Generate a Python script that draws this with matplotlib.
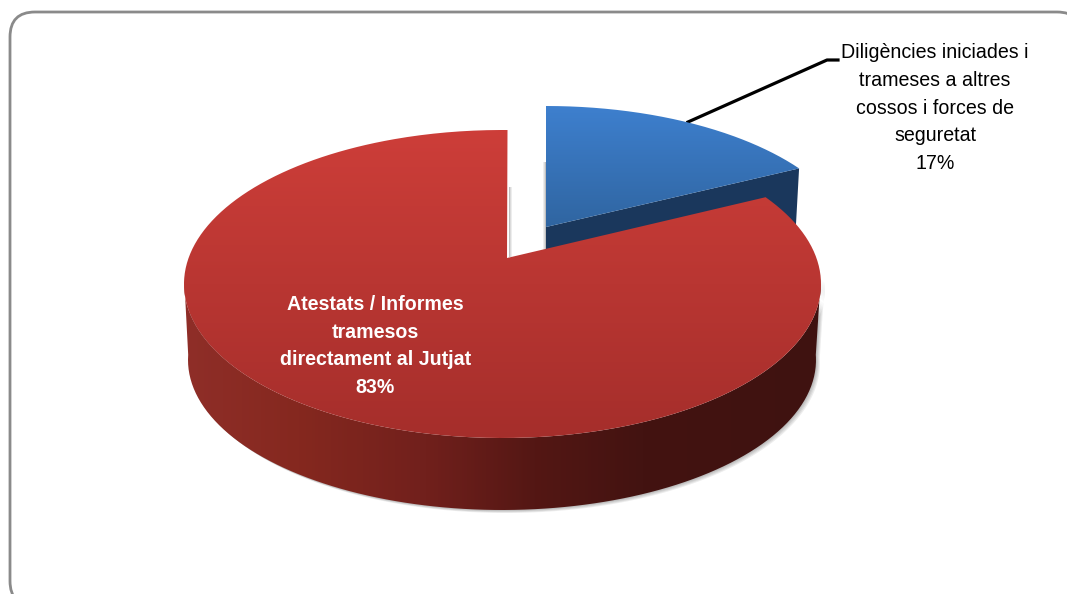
import numpy as np
import matplotlib
matplotlib.use("Agg")
import matplotlib.pyplot as plt
from matplotlib.path import Path
from matplotlib.patches import PathPatch, FancyBboxPatch
from matplotlib.colors import LinearSegmentedColormap
from matplotlib.transforms import Affine2D

categories = ["Diligències iniciades i\ntrameses a altres\ncossos i forces de\nseguretat",
              "Atestats / Informes\ntramesos\ndirectament al Jutjat"]
shares = [17, 83]

family = ["Liberation Sans"]

W, H = 1067, 594
fig = plt.figure(figsize=(W / 100, H / 100), dpi=100)
ax = fig.add_axes([0, 0, 1, 1])
ax.set_xlim(0, W)
ax.set_ylim(H, 0)
ax.axis("off")

# view of the pie: ellipse centre, radii, thickness, perspective squeeze of angles
RED_TOP = dict(cx=502.5, cy=284, rx=318.5, ry=154)
RED_BOTTOM = dict(cx=502, cy=360, rx=314, ry=150)
RED_APEX = (507, 258)
BLUE_TOP = dict(cx=546, cy=255, rx=311, ry=149)
BLUE_APEX = (546, 227)
BLUE_DEPTH = 72
WARP_RED = 0.91
WARP_BLUE = 0.89


def arc(e, t0, t1, n=200):
    t = np.radians(np.linspace(t0, t1, n))
    return np.column_stack([e["cx"] + e["rx"] * np.sin(t), e["cy"] - e["ry"] * np.cos(t)])


def poly(pts):
    pts = np.asarray(pts)
    return Path(np.vstack([pts, pts[:1]]))


def fill(path, stops, extent, vertical=True, z=2):
    cmap = LinearSegmentedColormap.from_list("g", stops)
    grad = np.linspace(0, 1, 256)
    grad = grad[:, None] if vertical else grad[None, :]
    im = ax.imshow(grad, cmap=cmap, extent=extent, aspect="auto", zorder=z, origin="upper",
                   vmin=0, vmax=1, interpolation="bilinear")
    clip = PathPatch(path, transform=ax.transData, fc="none", ec="none")
    ax.add_patch(clip)
    im.set_clip_path(clip)


def shadow(path, dx, dy, z, steps=4, alpha=0.09):
    for k in range(1, steps + 1):
        ax.add_patch(PathPatch(path.transformed(
            Affine2D().translate(dx * k / steps, dy * k / steps)),
            fc="black", ec="none", alpha=alpha, zorder=z))


total = sum(shares)
sweep_blue = 360 * shares[0] / total * WARP_BLUE
sweep_red_start = 360 * shares[0] / total * WARP_RED

# frame, running off the right and bottom of the picture
ax.add_patch(FancyBboxPatch((35, 37), 1022, 544, boxstyle="round,pad=25,rounding_size=25",
                            fc="white", ec="#8a8a8a", lw=2, zorder=1, clip_on=True))

# leader line
ax.plot([688, 827, 838], [122, 60, 60], color="black", lw=2.3, zorder=1.5, solid_joinstyle="round")

# blue slice
blue_arc = arc(BLUE_TOP, 0, sweep_blue)
blue_top = poly(np.vstack([blue_arc, [BLUE_APEX]]))
blue_side = poly([BLUE_APEX, blue_arc[-1], blue_arc[-1] + [-4, BLUE_DEPTH],
                  (BLUE_APEX[0], BLUE_APEX[1] + BLUE_DEPTH)])
for k, a in zip((1, 2, 3), (0.25, 0.14, 0.07)):
    ax.add_patch(PathPatch(poly([(546 - k, 162), (546 - k + 1, 162), (546 - k + 1, 251), (546 - k, 251)]),
                           fc="black", ec="none", alpha=a, zorder=1.6))
ax.add_patch(PathPatch(blue_side, fc="#1a375c", ec="none", zorder=2))
fill(blue_top, ["#3e80cf", "#2f649f"], (540, 810, 232, 104), vertical=True, z=3)

# red slice
t_start = 0.9
outer = arc(RED_TOP, sweep_red_start, 360 + t_start, 500)
red_top = poly(np.vstack([outer, [RED_APEX]]))
wall = poly(np.vstack([arc(RED_TOP, 88, 272), arc(RED_BOTTOM, 272, 88)]))
shadow(wall, 4, 3, 3.5, steps=4, alpha=0.07)
for k, a in zip((1, 2, 3), (0.25, 0.14, 0.07)):
    ax.add_patch(PathPatch(poly([(508 + k, 187), (509 + k, 187), (509 + k, 257), (508 + k, 257)]),
                           fc="black", ec="none", alpha=a, zorder=1.6))
fill(wall, [(0.0, "#8f2e28"), (0.18, "#85281f"), (0.38, "#71201c"), (0.55, "#541714"),
            (0.72, "#431311"), (1.0, "#3f1210")], (184, 821, 600, 200), vertical=False, z=4)
fill(red_top, ["#cd3e39", "#a52e2b"], (180, 825, 440, 128), vertical=True, z=5)

# labels
ax.text(935, 108, categories[0] + f"\n{shares[0]}%", ha="center", va="center", color="black",
        fontsize=14.1, family=family, linespacing=1.57, zorder=6)
ax.text(375.5, 346, categories[1] + f"\n{shares[1]}%", ha="center", va="center", color="white",
        fontsize=14.1, fontweight="bold", family=family, linespacing=1.57, zorder=6)

fig.savefig("out.png", dpi=100, facecolor="white")
